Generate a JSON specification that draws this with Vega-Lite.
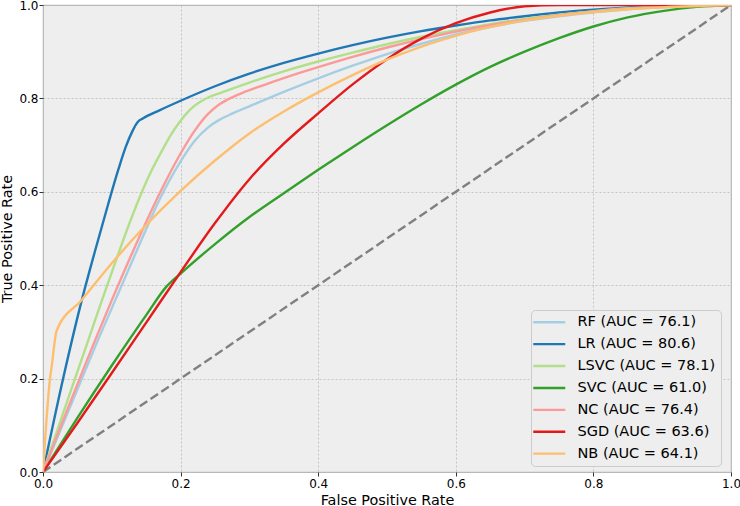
{
  "$schema": "https://vega.github.io/schema/vega-lite/v6.json",
  "autosize": {"type": "none"},
  "width": 688,
  "height": 467,
  "padding": {"left": 43, "top": 5, "right": 9, "bottom": 34},
  "background": "white",
  "config": {
    "font": "DejaVu Sans",
    "view": {"fill": "#eeeeee", "stroke": "#bcbcbc", "strokeWidth": 1.2},
    "axis": {
      "domain": false,
      "grid": true,
      "gridColor": "#b2b2b2",
      "gridDash": [2, 2],
      "gridWidth": 0.7,
      "tickColor": "#333333",
      "tickSize": 4,
      "tickWidth": 1,
      "labelFont": "DejaVu Sans",
      "labelFontSize": 12,
      "labelColor": "#000000",
      "labelOverlap": false,
      "labelBound": false,
      "labelFlush": false,
      "titleFont": "DejaVu Sans",
      "titleFontSize": 14.4,
      "titleFontWeight": "normal",
      "titleColor": "#000000"
    }
  },
  "datasets": {
    "diag": [{"x": 0, "y": 0}, {"x": 1, "y": 1}],
    "roc": [
      {"model": "RF (AUC = 76.1)", "x": 0, "y": 0},
      {"model": "RF (AUC = 76.1)", "x": 0.08, "y": 0.283},
      {"model": "RF (AUC = 76.1)", "x": 0.141, "y": 0.49},
      {"model": "RF (AUC = 76.1)", "x": 0.17, "y": 0.585},
      {"model": "RF (AUC = 76.1)", "x": 0.2, "y": 0.665},
      {"model": "RF (AUC = 76.1)", "x": 0.22, "y": 0.708},
      {"model": "RF (AUC = 76.1)", "x": 0.24, "y": 0.738},
      {"model": "RF (AUC = 76.1)", "x": 0.255, "y": 0.753},
      {"model": "RF (AUC = 76.1)", "x": 0.27, "y": 0.764},
      {"model": "RF (AUC = 76.1)", "x": 0.3, "y": 0.783},
      {"model": "RF (AUC = 76.1)", "x": 0.35, "y": 0.814},
      {"model": "RF (AUC = 76.1)", "x": 0.4, "y": 0.843},
      {"model": "RF (AUC = 76.1)", "x": 0.45, "y": 0.87},
      {"model": "RF (AUC = 76.1)", "x": 0.5, "y": 0.895},
      {"model": "RF (AUC = 76.1)", "x": 0.55, "y": 0.917},
      {"model": "RF (AUC = 76.1)", "x": 0.6, "y": 0.937},
      {"model": "RF (AUC = 76.1)", "x": 0.65, "y": 0.953},
      {"model": "RF (AUC = 76.1)", "x": 0.7, "y": 0.966},
      {"model": "RF (AUC = 76.1)", "x": 0.75, "y": 0.976},
      {"model": "RF (AUC = 76.1)", "x": 0.8, "y": 0.984},
      {"model": "RF (AUC = 76.1)", "x": 0.85, "y": 0.991},
      {"model": "RF (AUC = 76.1)", "x": 0.9, "y": 0.995},
      {"model": "RF (AUC = 76.1)", "x": 1, "y": 1},

      {"model": "LR (AUC = 80.6)", "x": 0, "y": 0},
      {"model": "LR (AUC = 80.6)", "x": 0.03, "y": 0.205},
      {"model": "LR (AUC = 80.6)", "x": 0.055, "y": 0.36},
      {"model": "LR (AUC = 80.6)", "x": 0.075, "y": 0.47},
      {"model": "LR (AUC = 80.6)", "x": 0.095, "y": 0.575},
      {"model": "LR (AUC = 80.6)", "x": 0.11, "y": 0.65},
      {"model": "LR (AUC = 80.6)", "x": 0.12, "y": 0.695},
      {"model": "LR (AUC = 80.6)", "x": 0.13, "y": 0.73},
      {"model": "LR (AUC = 80.6)", "x": 0.138, "y": 0.75},
      {"model": "LR (AUC = 80.6)", "x": 0.145, "y": 0.757},
      {"model": "LR (AUC = 80.6)", "x": 0.17, "y": 0.775},
      {"model": "LR (AUC = 80.6)", "x": 0.2, "y": 0.795},
      {"model": "LR (AUC = 80.6)", "x": 0.25, "y": 0.826},
      {"model": "LR (AUC = 80.6)", "x": 0.3, "y": 0.853},
      {"model": "LR (AUC = 80.6)", "x": 0.35, "y": 0.876},
      {"model": "LR (AUC = 80.6)", "x": 0.4, "y": 0.896},
      {"model": "LR (AUC = 80.6)", "x": 0.45, "y": 0.914},
      {"model": "LR (AUC = 80.6)", "x": 0.5, "y": 0.93},
      {"model": "LR (AUC = 80.6)", "x": 0.55, "y": 0.944},
      {"model": "LR (AUC = 80.6)", "x": 0.6, "y": 0.956},
      {"model": "LR (AUC = 80.6)", "x": 0.65, "y": 0.967},
      {"model": "LR (AUC = 80.6)", "x": 0.7, "y": 0.976},
      {"model": "LR (AUC = 80.6)", "x": 0.75, "y": 0.984},
      {"model": "LR (AUC = 80.6)", "x": 0.8, "y": 0.99},
      {"model": "LR (AUC = 80.6)", "x": 0.85, "y": 0.995},
      {"model": "LR (AUC = 80.6)", "x": 0.9, "y": 0.998},
      {"model": "LR (AUC = 80.6)", "x": 1, "y": 1},

      {"model": "LSVC (AUC = 78.1)", "x": 0, "y": 0},
      {"model": "LSVC (AUC = 78.1)", "x": 0.0465, "y": 0.2},
      {"model": "LSVC (AUC = 78.1)", "x": 0.066, "y": 0.283},
      {"model": "LSVC (AUC = 78.1)", "x": 0.085, "y": 0.365},
      {"model": "LSVC (AUC = 78.1)", "x": 0.107, "y": 0.457},
      {"model": "LSVC (AUC = 78.1)", "x": 0.125, "y": 0.53},
      {"model": "LSVC (AUC = 78.1)", "x": 0.141, "y": 0.59},
      {"model": "LSVC (AUC = 78.1)", "x": 0.155, "y": 0.637},
      {"model": "LSVC (AUC = 78.1)", "x": 0.17, "y": 0.68},
      {"model": "LSVC (AUC = 78.1)", "x": 0.185, "y": 0.72},
      {"model": "LSVC (AUC = 78.1)", "x": 0.2, "y": 0.752},
      {"model": "LSVC (AUC = 78.1)", "x": 0.21, "y": 0.77},
      {"model": "LSVC (AUC = 78.1)", "x": 0.22, "y": 0.784},
      {"model": "LSVC (AUC = 78.1)", "x": 0.23, "y": 0.794},
      {"model": "LSVC (AUC = 78.1)", "x": 0.24, "y": 0.802},
      {"model": "LSVC (AUC = 78.1)", "x": 0.26, "y": 0.813},
      {"model": "LSVC (AUC = 78.1)", "x": 0.3, "y": 0.834},
      {"model": "LSVC (AUC = 78.1)", "x": 0.35, "y": 0.858},
      {"model": "LSVC (AUC = 78.1)", "x": 0.4, "y": 0.879},
      {"model": "LSVC (AUC = 78.1)", "x": 0.45, "y": 0.898},
      {"model": "LSVC (AUC = 78.1)", "x": 0.5, "y": 0.916},
      {"model": "LSVC (AUC = 78.1)", "x": 0.55, "y": 0.932},
      {"model": "LSVC (AUC = 78.1)", "x": 0.6, "y": 0.946},
      {"model": "LSVC (AUC = 78.1)", "x": 0.65, "y": 0.959},
      {"model": "LSVC (AUC = 78.1)", "x": 0.7, "y": 0.97},
      {"model": "LSVC (AUC = 78.1)", "x": 0.75, "y": 0.979},
      {"model": "LSVC (AUC = 78.1)", "x": 0.8, "y": 0.987},
      {"model": "LSVC (AUC = 78.1)", "x": 0.85, "y": 0.993},
      {"model": "LSVC (AUC = 78.1)", "x": 0.9, "y": 0.997},
      {"model": "LSVC (AUC = 78.1)", "x": 1, "y": 1},

      {"model": "SVC (AUC = 61.0)", "x": 0, "y": 0},
      {"model": "SVC (AUC = 61.0)", "x": 0.05, "y": 0.116},
      {"model": "SVC (AUC = 61.0)", "x": 0.1, "y": 0.228},
      {"model": "SVC (AUC = 61.0)", "x": 0.15, "y": 0.336},
      {"model": "SVC (AUC = 61.0)", "x": 0.18, "y": 0.398},
      {"model": "SVC (AUC = 61.0)", "x": 0.2, "y": 0.425},
      {"model": "SVC (AUC = 61.0)", "x": 0.25, "y": 0.488},
      {"model": "SVC (AUC = 61.0)", "x": 0.3, "y": 0.546},
      {"model": "SVC (AUC = 61.0)", "x": 0.35, "y": 0.597},
      {"model": "SVC (AUC = 61.0)", "x": 0.4, "y": 0.647},
      {"model": "SVC (AUC = 61.0)", "x": 0.45, "y": 0.6955},
      {"model": "SVC (AUC = 61.0)", "x": 0.5, "y": 0.7425},
      {"model": "SVC (AUC = 61.0)", "x": 0.55, "y": 0.7875},
      {"model": "SVC (AUC = 61.0)", "x": 0.6, "y": 0.8295},
      {"model": "SVC (AUC = 61.0)", "x": 0.65, "y": 0.8675},
      {"model": "SVC (AUC = 61.0)", "x": 0.7, "y": 0.9},
      {"model": "SVC (AUC = 61.0)", "x": 0.75, "y": 0.929},
      {"model": "SVC (AUC = 61.0)", "x": 0.8, "y": 0.954},
      {"model": "SVC (AUC = 61.0)", "x": 0.85, "y": 0.9735},
      {"model": "SVC (AUC = 61.0)", "x": 0.9, "y": 0.987},
      {"model": "SVC (AUC = 61.0)", "x": 0.95, "y": 0.996},
      {"model": "SVC (AUC = 61.0)", "x": 1, "y": 1},

      {"model": "NC (AUC = 76.4)", "x": 0, "y": 0},
      {"model": "NC (AUC = 76.4)", "x": 0.076, "y": 0.283},
      {"model": "NC (AUC = 76.4)", "x": 0.1, "y": 0.368},
      {"model": "NC (AUC = 76.4)", "x": 0.136, "y": 0.49},
      {"model": "NC (AUC = 76.4)", "x": 0.17, "y": 0.598},
      {"model": "NC (AUC = 76.4)", "x": 0.2, "y": 0.682},
      {"model": "NC (AUC = 76.4)", "x": 0.22, "y": 0.73},
      {"model": "NC (AUC = 76.4)", "x": 0.24, "y": 0.767},
      {"model": "NC (AUC = 76.4)", "x": 0.255, "y": 0.786},
      {"model": "NC (AUC = 76.4)", "x": 0.27, "y": 0.799},
      {"model": "NC (AUC = 76.4)", "x": 0.29, "y": 0.812},
      {"model": "NC (AUC = 76.4)", "x": 0.32, "y": 0.828},
      {"model": "NC (AUC = 76.4)", "x": 0.374, "y": 0.855},
      {"model": "NC (AUC = 76.4)", "x": 0.4, "y": 0.867},
      {"model": "NC (AUC = 76.4)", "x": 0.45, "y": 0.889},
      {"model": "NC (AUC = 76.4)", "x": 0.5, "y": 0.909},
      {"model": "NC (AUC = 76.4)", "x": 0.55, "y": 0.927},
      {"model": "NC (AUC = 76.4)", "x": 0.6, "y": 0.943},
      {"model": "NC (AUC = 76.4)", "x": 0.65, "y": 0.957},
      {"model": "NC (AUC = 76.4)", "x": 0.7, "y": 0.968},
      {"model": "NC (AUC = 76.4)", "x": 0.75, "y": 0.978},
      {"model": "NC (AUC = 76.4)", "x": 0.8, "y": 0.986},
      {"model": "NC (AUC = 76.4)", "x": 0.85, "y": 0.992},
      {"model": "NC (AUC = 76.4)", "x": 0.9, "y": 0.996},
      {"model": "NC (AUC = 76.4)", "x": 1, "y": 1},

      {"model": "SGD (AUC = 63.6)", "x": 0, "y": 0},
      {"model": "SGD (AUC = 63.6)", "x": 0.05, "y": 0.105},
      {"model": "SGD (AUC = 63.6)", "x": 0.1, "y": 0.212},
      {"model": "SGD (AUC = 63.6)", "x": 0.15, "y": 0.32},
      {"model": "SGD (AUC = 63.6)", "x": 0.2, "y": 0.428},
      {"model": "SGD (AUC = 63.6)", "x": 0.25, "y": 0.533},
      {"model": "SGD (AUC = 63.6)", "x": 0.3, "y": 0.627},
      {"model": "SGD (AUC = 63.6)", "x": 0.35, "y": 0.703},
      {"model": "SGD (AUC = 63.6)", "x": 0.4, "y": 0.768},
      {"model": "SGD (AUC = 63.6)", "x": 0.45, "y": 0.83},
      {"model": "SGD (AUC = 63.6)", "x": 0.5, "y": 0.884},
      {"model": "SGD (AUC = 63.6)", "x": 0.55, "y": 0.928},
      {"model": "SGD (AUC = 63.6)", "x": 0.6, "y": 0.961},
      {"model": "SGD (AUC = 63.6)", "x": 0.65, "y": 0.984},
      {"model": "SGD (AUC = 63.6)", "x": 0.7, "y": 0.997},
      {"model": "SGD (AUC = 63.6)", "x": 0.75, "y": 1.0},
      {"model": "SGD (AUC = 63.6)", "x": 1, "y": 1},

      {"model": "NB (AUC = 64.1)", "x": 0, "y": 0},
      {"model": "NB (AUC = 64.1)", "x": 0.004, "y": 0.09},
      {"model": "NB (AUC = 64.1)", "x": 0.0102, "y": 0.2},
      {"model": "NB (AUC = 64.1)", "x": 0.0126, "y": 0.226},
      {"model": "NB (AUC = 64.1)", "x": 0.0199, "y": 0.303},
      {"model": "NB (AUC = 64.1)", "x": 0.056, "y": 0.368},
      {"model": "NB (AUC = 64.1)", "x": 0.1, "y": 0.447},
      {"model": "NB (AUC = 64.1)", "x": 0.141, "y": 0.515},
      {"model": "NB (AUC = 64.1)", "x": 0.2, "y": 0.602},
      {"model": "NB (AUC = 64.1)", "x": 0.25, "y": 0.667},
      {"model": "NB (AUC = 64.1)", "x": 0.3, "y": 0.725},
      {"model": "NB (AUC = 64.1)", "x": 0.35, "y": 0.772},
      {"model": "NB (AUC = 64.1)", "x": 0.4, "y": 0.813},
      {"model": "NB (AUC = 64.1)", "x": 0.45, "y": 0.85},
      {"model": "NB (AUC = 64.1)", "x": 0.5, "y": 0.883},
      {"model": "NB (AUC = 64.1)", "x": 0.55, "y": 0.911},
      {"model": "NB (AUC = 64.1)", "x": 0.6, "y": 0.934},
      {"model": "NB (AUC = 64.1)", "x": 0.65, "y": 0.953},
      {"model": "NB (AUC = 64.1)", "x": 0.7, "y": 0.967},
      {"model": "NB (AUC = 64.1)", "x": 0.75, "y": 0.977},
      {"model": "NB (AUC = 64.1)", "x": 0.8, "y": 0.985},
      {"model": "NB (AUC = 64.1)", "x": 0.85, "y": 0.991},
      {"model": "NB (AUC = 64.1)", "x": 0.9, "y": 0.995},
      {"model": "NB (AUC = 64.1)", "x": 1, "y": 1}
    ]
  },
  "layer": [
    {
      "data": {"name": "diag"},
      "mark": {"type": "line", "color": "#808080", "strokeWidth": 2.4, "strokeDash": [9, 4]},
      "encoding": {
        "x": {"field": "x", "type": "quantitative"},
        "y": {"field": "y", "type": "quantitative"}
      }
    },
    {
      "data": {"name": "roc"},
      "mark": {"type": "line", "strokeWidth": 2.4, "clip": true, "interpolate": "monotone"},
      "encoding": {
        "x": {
          "field": "x", "type": "quantitative",
          "scale": {"domain": [0, 1], "nice": false, "zero": false},
          "axis": {"values": [0, 0.2, 0.4, 0.6, 0.8, 1.0], "format": ".1f", "title": "False Positive Rate", "labelPadding": 2, "titlePadding": 4}
        },
        "y": {
          "field": "y", "type": "quantitative",
          "scale": {"domain": [0, 1], "nice": false, "zero": false},
          "axis": {"values": [0, 0.2, 0.4, 0.6, 0.8, 1.0], "format": ".1f", "title": "True Positive Rate", "labelPadding": 1, "titlePadding": 4}
        },
        "color": {
          "field": "model", "type": "nominal",
          "scale": {
            "domain": ["RF (AUC = 76.1)", "LR (AUC = 80.6)", "LSVC (AUC = 78.1)", "SVC (AUC = 61.0)", "NC (AUC = 76.4)", "SGD (AUC = 63.6)", "NB (AUC = 64.1)"],
            "range": ["#a6cee3", "#1f78b4", "#b2df8a", "#33a02c", "#fb9a99", "#e31a1c", "#fdbf6f"]
          },
          "legend": {
            "title": null,
            "orient": "none",
            "legendX": 488,
            "legendY": 305,
            "symbolType": "M-4,0H4",
            "symbolSize": 64,
            "symbolOffset": 6,
            "symbolStrokeWidth": 2.4,
            "labelFontSize": 14.5,
            "labelFont": "DejaVu Sans",
            "labelColor": "#000000",
            "labelOffset": 21,
            "labelLimit": 300,
            "rowPadding": 6.9,
            "padding": 5,
            "fillColor": "#eeeeee",
            "strokeColor": "#cccccc",
            "cornerRadius": 4
          }
        }
      }
    }
  ]
}
